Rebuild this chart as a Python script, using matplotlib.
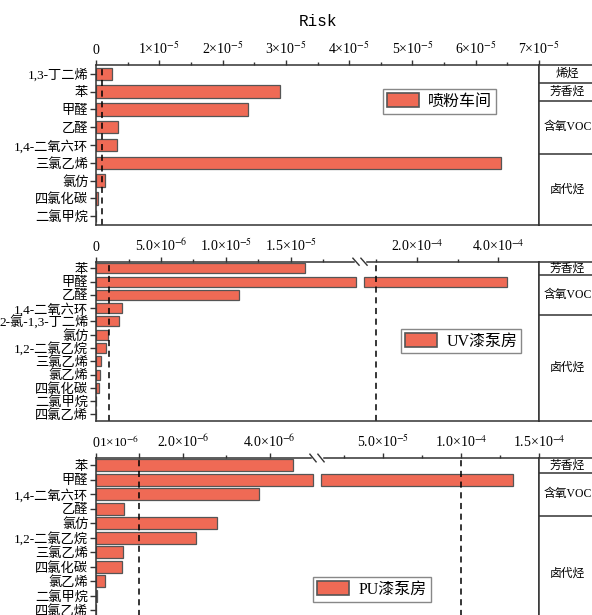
import numpy as np
import matplotlib.pyplot as plt

plt.rcParams['font.family'] = ['Liberation Serif', 'Noto Sans CJK SC']
plt.rcParams['mathtext.fontset'] = 'stix'
plt.rcParams['axes.unicode_minus'] = True

# 喷粉车间
spray_names = ['1,3-丁二烯', '苯', '甲醛', '乙醛', '1,4-二氧六环', '三氯乙烯', '氯仿', '四氯化碳', '二氯甲烷']
spray_risk = [2.6e-6, 2.9e-5, 2.4e-5, 3.4e-6, 3.3e-6, 6.4e-5, 1.5e-6, 3.7e-7, 2e-8]
spray_groups = [('烯烃', 1), ('芳香烃', 1), ('含氧VOC', 3), ('卤代烃', 4)]

# UV漆泵房
uv_names = ['苯', '甲醛', '乙醛', '1,4-二氧六环', '2-氯-1,3-丁二烯', '氯仿', '1,2-二氯乙烷',
            '三氯乙烯', '氯乙烯', '四氯化碳', '二氯甲烷', '四氯乙烯']
uv_risk = [1.61e-5, 4.22e-4, 1.1e-5, 2.0e-6, 1.8e-6, 9.5e-7, 7.7e-7, 3.6e-7, 3.1e-7, 2.3e-7, 1e-8, 0.0]
uv_groups = [('芳香烃', 1), ('含氧VOC', 3), ('卤代烃', 8)]

# PU漆泵房
pu_names = ['苯', '甲醛', '1,4-二氧六环', '乙醛', '氯仿', '1,2-二氯乙烷', '三氯乙烯',
            '四氯化碳', '氯乙烯', '二氯甲烷', '四氯乙烯', '2-氯-1,3-丁二烯']
pu_risk = [4.55e-6, 1.33e-4, 3.75e-6, 6.5e-7, 2.78e-6, 2.3e-6, 6.3e-7, 5.9e-7, 2.0e-7, 2e-8, 0.0, 0.0]
pu_groups = [('芳香烃', 1), ('含氧VOC', 3), ('卤代烃', 8)]

threshold_low = 1e-6
threshold_high = 1e-4

BAR = '#EF6A55'
EDGE = '#555555'
SPINE = '#333333'

W, H = 592, 615
fig = plt.figure(figsize=(W / 100, H / 100), dpi=100)


def px_axes(left, top, width, height):
    return fig.add_axes([left / W, 1 - (top + height) / H, width / W, height / H])


def piecewise(xs, us):
    xs = np.asarray(xs, float)
    us = np.asarray(us, float)

    def mapper(a, b):
        def f(x):
            x = np.asarray(x, float)
            mid = np.interp(x, a, b)
            lo = b[0] + (x - a[0]) * (b[1] - b[0]) / (a[1] - a[0])
            hi = b[-1] + (x - a[-1]) * (b[-1] - b[-2]) / (a[-1] - a[-2])
            return np.where(x < a[0], lo, np.where(x > a[-1], hi, mid))
        return f
    return mapper(xs, us), mapper(us, xs)


def sci(v, fmt):
    if v == 0:
        return '0'
    exp = int(np.floor(np.log10(v)))
    mant = v / 10 ** exp
    return (fmt % mant) + '×10$^{%d}$' % exp


def panel(top, row_px, names, risk, groups, label, bar_h, breaks=None, seg_px=None,
          majors=(), minors=(), fmt='%.1f', legend_at=(0.6, 0.5), xmax=7e-5):
    n = len(names)
    height = row_px * n
    ax = px_axes(96, top, 443, height)
    if breaks is not None:
        fwd, inv = piecewise(breaks, seg_px)
        ax.set_xscale('function', functions=(fwd, inv))
        xmax = breaks[-1]
    ax.set_xlim(0, xmax)
    ax.set_ylim(n - 0.5, -0.5)

    y = np.arange(n)
    for i, v in zip(y, risk):
        kw = dict(height=bar_h, color=BAR, edgecolor=EDGE, linewidth=0.9)
        if breaks is not None and v > breaks[1]:
            ax.barh(i, breaks[1], left=0, **kw)
            ax.barh(i, v - breaks[2], left=breaks[2], **kw)
        else:
            ax.barh(i, v, left=0, **kw)

    ax.axvline(threshold_low, color='k', ls=(0, (4, 3)), lw=1.1)
    if breaks is not None:
        ax.axvline(threshold_high, color='k', ls=(0, (4, 3)), lw=1.1)

    ax.set_yticks(y)
    ax.set_yticklabels(names, fontsize=9.5)
    ax.tick_params(axis='y', direction='out', length=4, width=1, pad=1.5, color=SPINE)
    ax.xaxis.tick_top()
    ax.set_xticks(list(majors))
    ax.set_xticks(list(minors), minor=True)
    ax.set_xticklabels([sci(v, fmt) for v in majors], fontsize=10)
    ax.tick_params(axis='x', which='major', direction='out', length=3.5, width=1, pad=2, color=SPINE)
    ax.tick_params(axis='x', which='minor', direction='out', length=2, width=1, color=SPINE)
    for s in ax.spines.values():
        s.set_color(SPINE)
        s.set_linewidth(1.1)

    if breaks is not None:
        total = seg_px[-1]
        a, b = seg_px[1] / total, seg_px[2] / total
        ax.plot([a, b], [1, 1], transform=ax.transAxes, color='white', lw=2.5,
                clip_on=False, zorder=5)
        for xb in (a, b):
            ax.plot([xb - 0.007, xb + 0.007], [1 + 0.022, 1 - 0.022], transform=ax.transAxes,
                    color=SPINE, lw=1, clip_on=False, zorder=6)

    handle = plt.Rectangle((0, 0), 1, 1, facecolor=BAR, edgecolor=EDGE, linewidth=1.2)
    leg = ax.legend([handle], [label], loc='upper left', bbox_to_anchor=legend_at,
                    borderaxespad=0, fancybox=False, framealpha=1, fontsize=11.5,
                    handlelength=2.0, handleheight=1.0, handletextpad=0.6,
                    borderpad=0.25)
    leg.get_frame().set_edgecolor('#888888')
    leg.get_frame().set_linewidth(1)

    # category column on the right
    gax = px_axes(539, top, 57, height)
    gax.set_xlim(0, 1)
    gax.set_ylim(n - 0.5, -0.5)
    gax.set_xticks([])
    gax.set_yticks([])
    gax.spines['right'].set_visible(False)
    for s in gax.spines.values():
        s.set_color(SPINE)
        s.set_linewidth(1.1)
    start = 0
    for name, count in groups:
        end = start + count
        gax.text(0.5, (start + end - 1) / 2, name, ha='center', va='center', fontsize=8.5)
        if end < n:
            gax.axhline(end - 0.5, color=SPINE, lw=1.1)
        start = end
    return ax


panel(65, 160 / 9, spray_names, spray_risk, spray_groups, '喷粉车间', 0.7,
      majors=[0, 1e-5, 2e-5, 3e-5, 4e-5, 5e-5, 6e-5, 7e-5],
      minors=np.arange(0.5e-5, 7e-5, 1e-5), fmt='%.0f', legend_at=(0.647, 0.85))

panel(261.7, 159.3 / 12, uv_names, uv_risk, uv_groups, 'UV漆泵房', 0.75,
      breaks=[0, 2e-5, 7e-5, 5e-4], seg_px=[0, 260, 268, 443],
      majors=[0, 5e-6, 1e-5, 1.5e-5, 2e-4, 4e-4],
      minors=[2.5e-6, 7.5e-6, 1.25e-5, 1.75e-5, 1e-4, 3e-4],
      legend_at=(0.688, 0.579))

ax3 = panel(458, 14.5, pu_names, pu_risk, pu_groups, 'PU漆泵房', 0.82,
            breaks=[0, 5e-6, 1e-5, 1.5e-4], seg_px=[0, 217, 225, 443],
            majors=[0, 1e-6, 2e-6, 4e-6, 5e-5, 1e-4, 1.5e-4],
            minors=[3e-6, 2.5e-5, 7.5e-5, 1.25e-4],
            legend_at=(0.49, 1 - 119 / 174))
labels = [t.get_text() for t in ax3.get_xticklabels()]
labels[1] = '1×10$^{-6}$'
ax3.set_xticklabels(labels, fontsize=10)
lab = ax3.get_xticklabels()[1]
lab.set_horizontalalignment('right')
lab.set_fontsize(9.5)

fig.text(318 / W, 1 - 22 / H, 'Risk', ha='center', va='center', fontsize=11.5,
         family='Liberation Mono')

fig.savefig('out.png', dpi=100)
